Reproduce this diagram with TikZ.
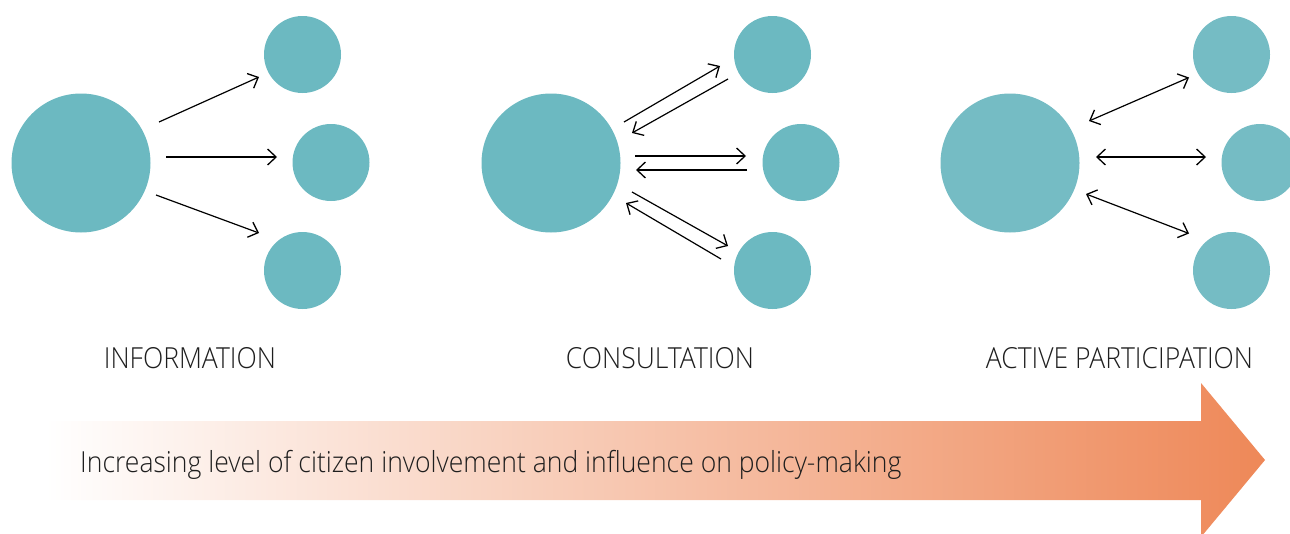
\documentclass[tikz,border=0pt]{standalone}
\usepackage{fontspec}
\setmainfont{Open Sans Light}[FakeStretch=0.915]
\usetikzlibrary{arrows.meta,calc}
\definecolor{tealA}{RGB}{108,185,193}
\definecolor{tealB}{RGB}{117,188,196}
\definecolor{orng}{RGB}{238,136,88}
\definecolor{txt}{RGB}{30,30,30}
\tikzset{
  bigc/.style={circle,fill=tealA,inner sep=0pt,minimum size=139pt},
  smc/.style={circle,fill=tealA,inner sep=0pt,minimum size=77pt},
  arr/.style={-{Straight Barb[length=8.5pt,width=16pt,line width=1.3pt]},line width=1.2pt,black},
  darr/.style={{Straight Barb[length=8.5pt,width=16pt,line width=1.3pt]}-{Straight Barb[length=8.5pt,width=16pt,line width=1.3pt]},line width=1.2pt,black},
  lbl/.style={font=\fontsize{29}{34}\selectfont,text=txt,inner sep=0pt,anchor=base}
}
\begin{document}
\begin{tikzpicture}[x=1pt,y=-1pt]
\useasboundingbox (0,0) rectangle (1290,533);
% big gradient arrow
\shade[left color=white,right color=orng]
  (45,421) -- (1201,421) -- (1201,383) -- (1265,460) -- (1201,537) -- (1201,500) -- (45,500) -- cycle;
\node[lbl,anchor=base west] (bar) at (80,472) {Increasing level of citizen involvement and influence on policy-making};
% group 1
\node[bigc] (a0) at (81,163) {};
\node[smc] (a1) at (302.5,54.5) {};
\node[smc] (a2) at (331,162.5) {};
\node[smc] (a3) at (302.5,270.5) {};
\draw[arr] ($(a0)+(78,-41)$) -- ($(a1)+(-43.5,22.5)$);
\draw[arr] ($(a0)+(85,-6)$) -- ($(a2)+(-54,-5.5)$);
\draw[arr] ($(a0)+(75,32)$) -- ($(a3)+(-43.5,-37.5)$);
\node[lbl] (l1) at (190,368) {INFORMATION};
% group 2
\node[bigc] (b0) at (551,163) {};
\node[smc] (b1) at (772.5,54.5) {};
\node[smc] (b2) at (801,162.5) {};
\node[smc] (b3) at (772.5,270.5) {};
\draw[arr] ($(b0)+(73,-41)$) -- ($(b1)+(-52.5,11.5)$);
\draw[arr] ($(b1)+(-44.5,24.5)$) -- ($(b0)+(81,-30)$);
\draw[arr] ($(b0)+(84,-7)$) -- ($(b2)+(-55,-6.5)$);
\draw[arr] ($(b2)+(-54,7.5)$) -- ($(b0)+(85,7)$);
\draw[arr] ($(b0)+(81,29)$) -- ($(b3)+(-44.5,-24.5)$);
\draw[arr] ($(b3)+(-51.5,-11.5)$) -- ($(b0)+(75,40)$);
\node[lbl] (l2) at (660,368) {CONSULTATION};
% group 3
\node[bigc,fill=tealB] (c0) at (1010,163) {};
\node[smc,fill=tealB] (c1) at (1231.5,54.5) {};
\node[smc,fill=tealB] (c2) at (1260,162.5) {};
\node[smc,fill=tealB] (c3) at (1231.5,270.5) {};
\draw[darr] ($(c0)+(79,-42)$) -- ($(c1)+(-42.5,23)$);
\draw[darr] ($(c0)+(86,-6)$) -- ($(c2)+(-54,-5.5)$);
\draw[darr] ($(c0)+(76,31)$) -- ($(c3)+(-42.5,-37)$);
\node[lbl] (l3) at (1119.5,368) {ACTIVE PARTICIPATION};
\end{tikzpicture}
\end{document}
